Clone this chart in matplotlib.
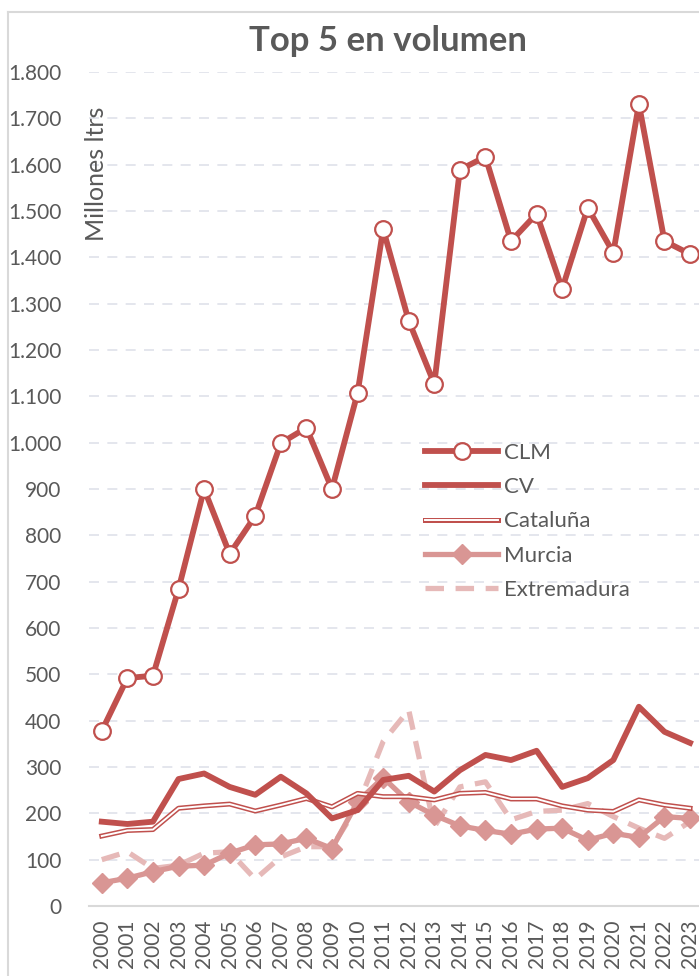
import matplotlib
matplotlib.use('Agg')
import matplotlib.pyplot as plt
from matplotlib.lines import Line2D
from matplotlib.legend_handler import HandlerTuple
from matplotlib.ticker import FuncFormatter, MultipleLocator

# datos (millones de litros)
years = list(range(2000, 2024))
clm = [378, 492, 497, 684, 900, 760, 842, 999, 1032, 900, 1107, 1461, 1263, 1127,
       1589, 1617, 1435, 1494, 1332, 1507, 1410, 1731, 1435, 1407]
cv = [182, 177, 182, 274, 286, 257, 240, 279, 243, 189, 207, 272, 281, 247,
      293, 326, 315, 335, 257, 276, 315, 430, 376, 352]
cataluna = [151, 163, 165, 211, 216, 220, 205, 218, 232, 214, 243, 236, 236, 229,
            243, 245, 231, 231, 216, 207, 204, 229, 218, 211]
murcia = [50, 60, 74, 86, 88, 114, 132, 134, 146, 124, 225, 277, 225, 196,
          173, 163, 155, 166, 168, 142, 157, 148, 193, 189]
extremadura = [100, 117, 81, 88, 114, 117, 58, 106, 128, 128, 215, 355, 423, 171,
               257, 268, 186, 204, 207, 221, 193, 168, 146, 182]

RED = '#C0504D'
PINK = '#D99694'
LIGHT = '#E6B9B8'
GREY = '#595959'

plt.rcParams['font.family'] = ['Lato', 'DejaVu Sans']

fig = plt.figure(figsize=(6.99, 9.76), dpi=100)
ax = fig.add_axes([89 / 699, 1 - 906 / 976, 610 / 699, 834 / 976])

# marco del grafico (solo se ven arriba e izquierda)
fig.add_artist(Line2D([8 / 699, 8 / 699], [0, 1 - 12 / 976], transform=fig.transFigure,
                      color='#D9D9D9', lw=1.5))
fig.add_artist(Line2D([8 / 699, 1], [1 - 12 / 976, 1 - 12 / 976], transform=fig.transFigure,
                      color='#D9D9D9', lw=1.5))

# series
ax.plot(years, extremadura, color=LIGHT, lw=3.8, dashes=(3.5, 2.2), zorder=3)
ax.plot(years, murcia, color=PINK, lw=3.8, marker='D', ms=10, zorder=4)
ax.plot(years, cataluna, color=RED, lw=3.6, zorder=5)
ax.plot(years, cataluna, color='white', lw=1.4, zorder=5)
ax.plot(years, cv, color=RED, lw=4.2, zorder=6)
ax.plot(years, clm, color=RED, lw=4.2, marker='o', ms=12, mfc='white',
        mec=RED, mew=1.6, zorder=7, clip_on=False)

# ejes
ax.set_xlim(1999.5, 2023.35)
ax.set_ylim(0, 1800)
ax.yaxis.set_major_locator(MultipleLocator(100))
ax.yaxis.set_major_formatter(FuncFormatter(lambda v, p: f'{int(v):,}'.replace(',', '.')))
ax.set_xticks(years)
ax.set_xticklabels([str(y) for y in years], rotation=90)
ax.tick_params(axis='both', length=0, labelsize=15, labelcolor=GREY)
ax.tick_params(axis='y', pad=20)
ax.tick_params(axis='x', pad=10)

ax.grid(axis='y', color='#DFE1EA', lw=1.2, ls=(0, (6, 5)))
ax.set_axisbelow(True)
for s in ['top', 'right', 'left']:
    ax.spines[s].set_visible(False)
ax.spines['bottom'].set_color('#D9D9D9')
ax.spines['bottom'].set_linewidth(1.5)

ax.text(0.012, 0.958, 'Millones ltrs', transform=ax.transAxes, rotation=90,
        ha='center', va='top', fontsize=18, color=GREY)

fig.text(388 / 699, 1 - 41 / 976, 'Top 5 en volumen', ha='center', va='center',
         fontsize=25, fontweight='bold', color=GREY)

# leyenda
h_clm = Line2D([], [], color=RED, lw=4.2, marker='o', ms=12, mfc='white', mec=RED, mew=1.6)
h_cv = Line2D([], [], color=RED, lw=4.2)
h_cat = (Line2D([], [], color=RED, lw=3.6), Line2D([], [], color='white', lw=1.4))
h_mur = Line2D([], [], color=PINK, lw=3.8, marker='D', ms=10)
h_ext = Line2D([], [], color=LIGHT, lw=3.8, dashes=(3.5, 2.2))
leg = ax.legend([h_clm, h_cv, h_cat, h_mur, h_ext],
                ['CLM', 'CV', 'Cataluña', 'Murcia', 'Extremadura'],
                handler_map={tuple: HandlerTuple(ndivide=1, pad=0)},
                loc='upper left', bbox_to_anchor=(425 / 699, 1 - 443 / 976),
                bbox_transform=fig.transFigure, frameon=False, fontsize=16,
                labelcolor=GREY, handlelength=3.3, handletextpad=0.25,
                labelspacing=0.64, borderpad=0, borderaxespad=0)

fig.savefig('out.png', dpi=100)
